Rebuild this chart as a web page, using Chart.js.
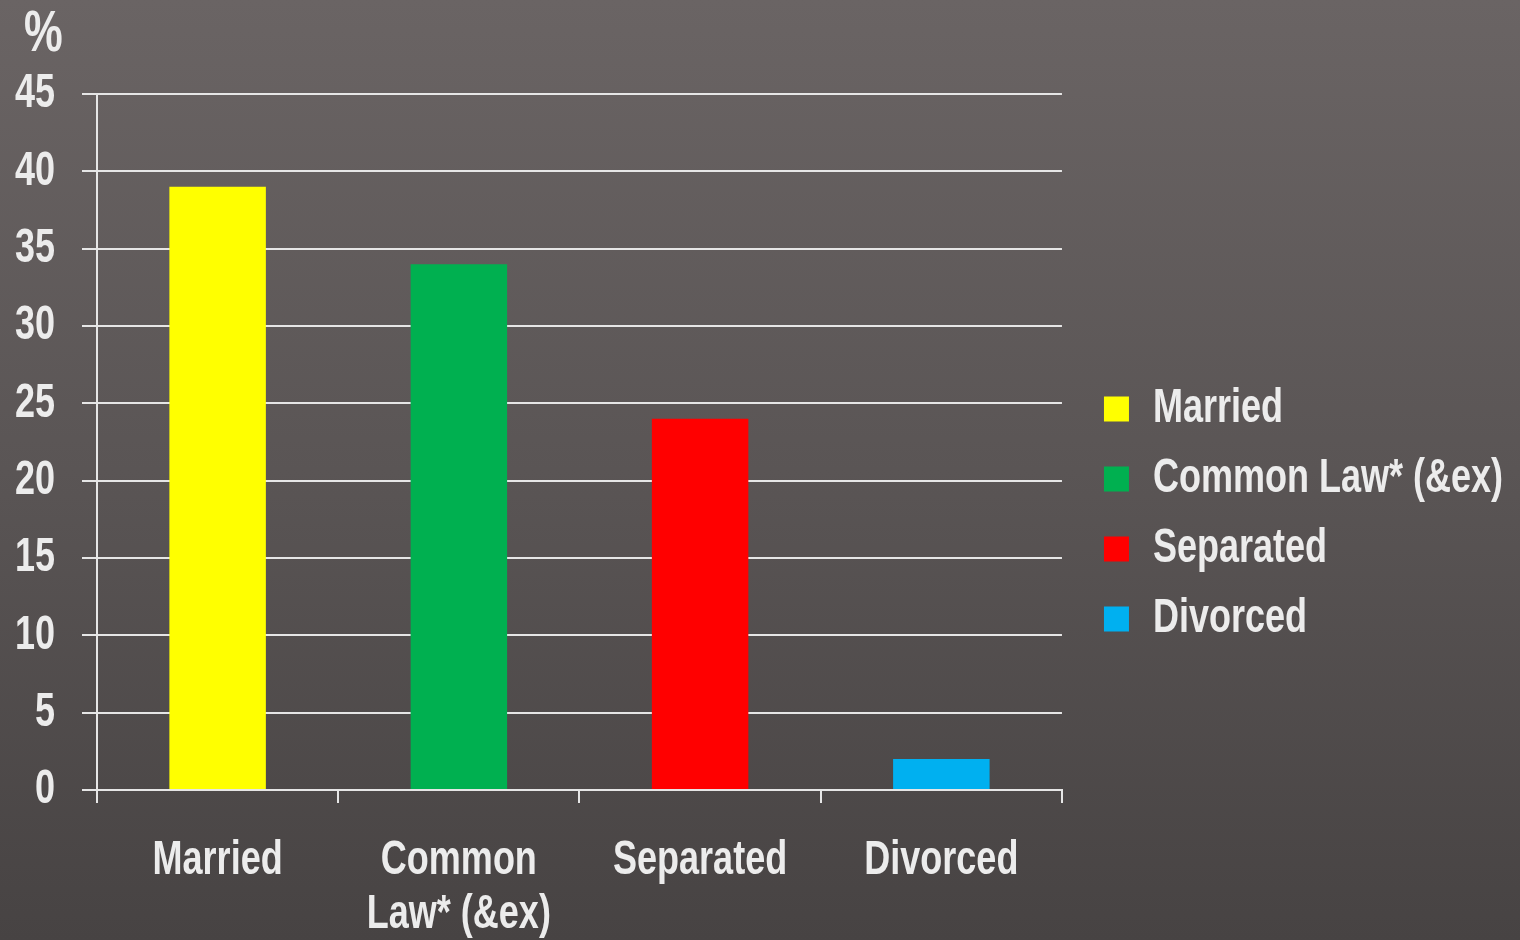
<!DOCTYPE html>
<html>
<head>
<meta charset="utf-8">
<script src="https://cdn.jsdelivr.net/npm/chart.js@4/dist/chart.umd.min.js"></script>
<style>
  html, body { margin: 0; padding: 0; width: 1520px; height: 940px; overflow: hidden;
    background: linear-gradient(to bottom, #6a6464 0%, #5a5555 50%, #474343 100%); }
  #wrap { width: 1520px; height: 940px; position: relative; }
</style>
</head>
<body>
<div id="wrap"><canvas id="c"></canvas></div>
<script>
const categories = ['Married', 'Common Law* (&ex)', 'Separated', 'Divorced'];
const axisLabels = [['Married'], ['Common', 'Law* (&ex)'], ['Separated'], ['Divorced']];
const values = [39, 34, 24, 2];
const barColors = ['#ffff00', '#00b050', '#ff0000', '#00b0f0'];
const yTicks = [0, 5, 10, 15, 20, 25, 30, 35, 40, 45];

const FONT = "'Liberation Sans', Arial, sans-serif";
const TXT = '#ececec';
const GRID = '#e6e6e6';

// condensed text rendering (the reference uses a narrow bold face)
const canvas = document.getElementById('c');
const ctx = canvas.getContext('2d');
const K = 0.75;
const origFill = ctx.fillText.bind(ctx);
const origMeasure = ctx.measureText.bind(ctx);
ctx.fillText = function (t, x, y) {
  this.save(); this.translate(x, y); this.scale(K, 1); origFill(t, 0, 0); this.restore();
};
ctx.measureText = function (t) {
  const m = origMeasure(t);
  return {
    width: m.width * K,
    actualBoundingBoxAscent: m.actualBoundingBoxAscent,
    actualBoundingBoxDescent: m.actualBoundingBoxDescent,
    actualBoundingBoxLeft: m.actualBoundingBoxLeft * K,
    actualBoundingBoxRight: m.actualBoundingBoxRight * K
  };
};

new Chart(canvas, {
  type: 'bar',
  data: {
    labels: axisLabels,
    datasets: [{
      data: values,
      backgroundColor: barColors,
      borderWidth: 0,
      categoryPercentage: 1,
      barPercentage: 0.4
    }]
  },
  options: {
    responsive: true,
    maintainAspectRatio: false,
    animation: false,
    layout: { padding: { left: 12, right: 7, top: 0, bottom: 0 } },
    plugins: {
      tooltip: { enabled: false },
      title: {
        display: true, text: ' %', align: 'start', color: TXT,
        font: { family: FONT, size: 58, weight: 'bold', lineHeight: 1.2 },
        padding: { top: 0, bottom: 24.4 }
      },
      legend: {
        position: 'right',
        align: 'center',
        maxWidth: 600,
        title: { display: true, text: ' ', font: { size: 10, lineHeight: 1.2 }, padding: { top: 76, bottom: 0 } },
        labels: {
          color: TXT,
          boxWidth: 25, boxHeight: 25,
          padding: 22,
          font: { family: FONT, size: 48, weight: 'bold' },
          generateLabels: (chart) => categories.map((name, i) => ({
            text: name,
            fillStyle: barColors[i],
            strokeStyle: barColors[i],
            lineWidth: 0,
            fontColor: TXT,
            hidden: false,
            index: i
          }))
        },
        onClick: () => {}
      }
    },
    scales: {
      x: {
        afterFit: (s) => { s.height = 150; },
        grid: { display: true, drawOnChartArea: false, offset: true, color: GRID, lineWidth: 2, tickLength: 13, tickWidth: 2, tickColor: GRID },
        border: { display: true, color: GRID, width: 2 },
        ticks: { color: TXT, font: { family: FONT, size: 48, weight: 'bold', lineHeight: 1.12 }, padding: 31, maxRotation: 0, autoSkip: false }
      },
      y: {
        min: 0, max: 45,
        afterBuildTicks: (s) => { s.ticks = yTicks.map(v => ({ value: v })); },
        afterFit: (s) => { s.width = 85; },
        grid: { display: true, color: GRID, lineWidth: 2, tickLength: 15, drawTicks: true },
        border: { display: true, color: GRID, width: 2 },
        ticks: { color: TXT, font: { family: FONT, size: 48, weight: 'bold' }, padding: 27 }
      },
      gap: {
        type: 'linear', position: 'right',
        afterFit: (s) => { s.width = 20; },
        grid: { display: false }, border: { display: false }, ticks: { display: false }
      }
    }
  }
});
</script>
</body>
</html>
